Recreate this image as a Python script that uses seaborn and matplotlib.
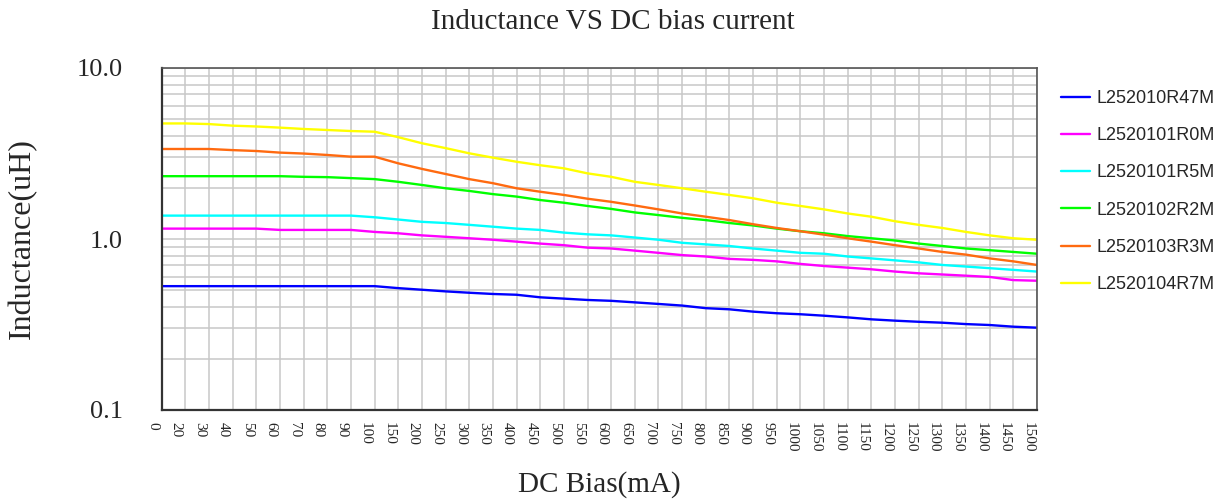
import numpy as np
import pandas as pd
import matplotlib
matplotlib.use("Agg")
import matplotlib.pyplot as plt
import seaborn as sns
from matplotlib.ticker import LogLocator, NullFormatter
from matplotlib.transforms import ScaledTranslation

# ---------------- data ----------------
currents = [0, 20, 30, 40, 50, 60, 70, 80, 90, 100,
            150, 200, 250, 300, 350, 400, 450, 500, 550, 600,
            650, 700, 750, 800, 850, 900, 950, 1000, 1050, 1100,
            1150, 1200, 1250, 1300, 1350, 1400, 1450, 1500]

parts = ["L252010R47M", "L2520101R0M", "L2520101R5M",
         "L2520102R2M", "L2520103R3M", "L2520104R7M"]

l_r47 = [0.53, 0.53, 0.53, 0.53, 0.53, 0.53, 0.53, 0.53, 0.53, 0.53,
         0.516, 0.505, 0.494, 0.485, 0.477, 0.472, 0.456, 0.448, 0.44, 0.435,
         0.426, 0.417, 0.408, 0.394, 0.388, 0.376, 0.368, 0.363, 0.356, 0.348,
         0.339, 0.333, 0.328, 0.324, 0.318, 0.314, 0.307, 0.303]
l_1r0 = [1.15, 1.15, 1.15, 1.15, 1.15, 1.13, 1.13, 1.13, 1.13, 1.10,
         1.08, 1.05, 1.03, 1.01, 0.99, 0.965, 0.94, 0.92, 0.89, 0.88,
         0.855, 0.83, 0.805, 0.79, 0.765, 0.755, 0.74, 0.715, 0.695, 0.68,
         0.665, 0.645, 0.63, 0.62, 0.61, 0.60, 0.575, 0.57]
l_1r5 = [1.37, 1.37, 1.37, 1.37, 1.37, 1.37, 1.37, 1.37, 1.37, 1.34,
         1.30, 1.26, 1.24, 1.21, 1.18, 1.15, 1.13, 1.09, 1.065, 1.05,
         1.02, 0.99, 0.95, 0.93, 0.91, 0.88, 0.855, 0.83, 0.82, 0.79,
         0.77, 0.75, 0.73, 0.705, 0.69, 0.675, 0.66, 0.645]
l_2r2 = [2.33, 2.33, 2.33, 2.33, 2.33, 2.33, 2.31, 2.30, 2.27, 2.24,
         2.16, 2.07, 1.98, 1.91, 1.83, 1.77, 1.69, 1.63, 1.56, 1.50,
         1.43, 1.38, 1.33, 1.29, 1.24, 1.20, 1.15, 1.11, 1.08, 1.04,
         1.01, 0.98, 0.94, 0.91, 0.88, 0.86, 0.84, 0.82]
l_3r3 = [3.36, 3.36, 3.36, 3.31, 3.27, 3.20, 3.16, 3.10, 3.03, 3.03,
         2.77, 2.57, 2.40, 2.24, 2.12, 1.98, 1.89, 1.81, 1.72, 1.65,
         1.57, 1.49, 1.41, 1.35, 1.29, 1.22, 1.16, 1.11, 1.06, 1.01,
         0.965, 0.92, 0.88, 0.84, 0.81, 0.77, 0.74, 0.705]
l_4r7 = [4.74, 4.74, 4.70, 4.60, 4.55, 4.48, 4.40, 4.34, 4.28, 4.24,
         3.94, 3.63, 3.40, 3.17, 2.99, 2.83, 2.70, 2.59, 2.42, 2.31,
         2.16, 2.07, 1.98, 1.89, 1.81, 1.73, 1.63, 1.56, 1.49, 1.41,
         1.35, 1.27, 1.21, 1.16, 1.10, 1.05, 1.01, 0.99]

series = [l_r47, l_1r0, l_1r5, l_2r2, l_3r3, l_4r7]
colors = ["#0000ff", "#ff00ff", "#00ffff", "#00ff00", "#ff6a10", "#ffff00"]

# ---------------- frame ----------------
positions = list(range(len(currents)))
rows = []
for name, vals in zip(parts, series):
    for p, v in zip(positions, vals):
        rows.append({"pos": p, "L": v, "part": name})
df = pd.DataFrame(rows)

sns.set_style("white")
plt.rcParams["font.family"] = ["Liberation Serif", "DejaVu Serif"]

fig = plt.figure(figsize=(12.25, 4.99), dpi=100)
ax = fig.add_axes([161.7 / 1225, 1 - 410 / 499, (1037 - 161.7) / 1225, (410 - 68) / 499])

sns.lineplot(data=df, x="pos", y="L", hue="part", hue_order=parts,
             palette=dict(zip(parts, colors)), linewidth=1.7,
             estimator=None, sort=False, ax=ax)

ax.set_yscale("log")
ax.set_ylim(0.1, 10)
ax.set_xlim(positions[0], positions[-1])

ax.set_yticks([0.1, 1, 10])
ax.yaxis.set_minor_locator(LogLocator(base=10, subs=np.arange(2, 10)))
ax.yaxis.set_minor_formatter(NullFormatter())

ax.grid(True, which="both", axis="y", color="#c8c8c8", linewidth=1.1)
ax.grid(True, which="major", axis="x", color="#c8c8c8", linewidth=1.1)
ax.set_axisbelow(True)

ax.tick_params(axis="x", direction="in", length=4, width=1.2, color="#222222", pad=9)
ax.tick_params(axis="y", which="major", direction="in", length=8, width=1.2,
               color="#444444", pad=28)
ax.tick_params(axis="y", which="minor", direction="in", length=4, width=1.0,
               color="#888888")

ax.set_xticks(positions)
ax.set_xticklabels([str(c) for c in currents], rotation=270, fontsize=11,
                   family="Liberation Serif")
ax.set_yticklabels(["0.1", "1.0", "10.0"], fontsize=19, family="Liberation Serif")
offset = ScaledTranslation(-0.09, 0, fig.dpi_scale_trans)
for lab in ax.get_xticklabels():
    lab.set_transform(lab.get_transform() + offset)

for side in ["left", "bottom"]:
    ax.spines[side].set_color("#333333")
    ax.spines[side].set_linewidth(1.6)
for side in ["top", "right"]:
    ax.spines[side].set_color("#555555")
    ax.spines[side].set_linewidth(1.2)

ax.set_xlabel("DC Bias(mA)", fontsize=21, family="Liberation Serif")
ax.set_ylabel("Inductance(uH)", fontsize=23, family="Liberation Serif")
ax.xaxis.set_label_coords(0.5, -0.178)
ax.yaxis.set_label_coords(-0.142, 0.5)

handles, labels = ax.get_legend_handles_labels()
ax.get_legend().remove()
fig.legend(handles, labels, loc="upper left",
           bbox_to_anchor=(1061 / 1225, 1 - 90 / 499),
           frameon=False, prop={"family": "Liberation Sans", "size": 13},
           handlelength=1.6, handletextpad=0.35, labelspacing=1.12,
           borderaxespad=0, borderpad=0)

fig.text(0.5, 1 - 22 / 499, "Inductance VS DC bias current", ha="center",
         va="center", fontsize=21, family="Liberation Serif")

fig.savefig("out.png", dpi=100)
